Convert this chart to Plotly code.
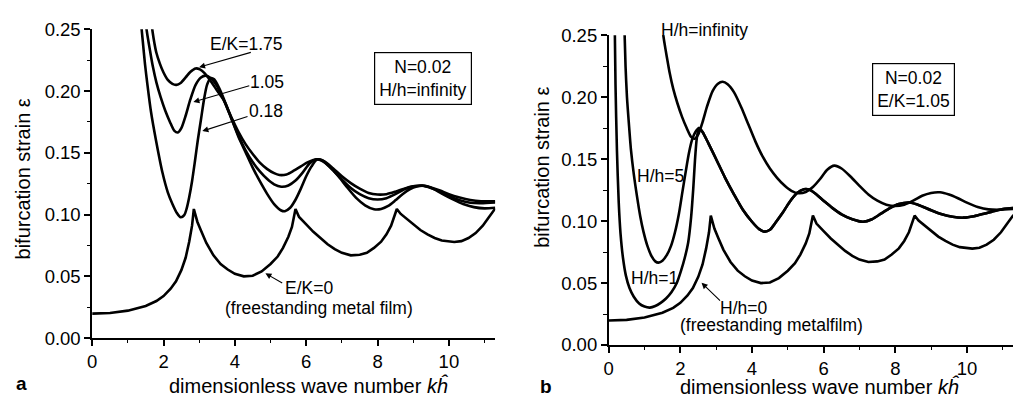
import plotly.graph_objects as go

W, H = 1013, 404

# ---------------- data ----------------
# freestanding metal film (E/K=0, also H/h=0)
fs_x = [0.0, 0.5, 1.0, 1.5, 1.8, 2.0, 2.2, 2.35, 2.5, 2.62, 2.72, 2.8, 2.85,
        2.95, 3.05, 3.2, 3.4, 3.6, 3.8, 4.0, 4.25, 4.5, 4.75, 5.0, 5.2, 5.35, 5.5, 5.6, 5.7,
        5.8, 6.0, 6.2, 6.4, 6.6, 6.8, 7.0, 7.25, 7.5, 7.7, 7.9, 8.1, 8.25, 8.38, 8.47, 8.54,
        8.65, 8.8, 9.0, 9.2, 9.4, 9.6, 9.8, 10.0, 10.15, 10.35, 10.55, 10.75, 10.95, 11.1, 11.2, 11.3]
fs_y = [0.0198, 0.0203, 0.0222, 0.026, 0.030, 0.034, 0.040, 0.046, 0.055, 0.065, 0.078, 0.091, 0.1045,
        0.094, 0.087, 0.077, 0.067, 0.060, 0.0555, 0.052, 0.050, 0.0505, 0.054, 0.060, 0.066, 0.073, 0.082, 0.090, 0.1045,
        0.098, 0.092, 0.086, 0.081, 0.076, 0.072, 0.069, 0.067, 0.0675, 0.069, 0.073, 0.078, 0.084, 0.091, 0.098, 0.1045,
        0.1005, 0.097, 0.092, 0.0875, 0.084, 0.081, 0.079, 0.078, 0.0778, 0.0785, 0.081, 0.085, 0.091, 0.097, 0.1015, 0.105]

# E/K=1.05 (also H/h=infinity)
ek105_x = [1.50, 1.55, 1.62, 1.70, 1.80, 1.92, 2.05, 2.18, 2.30, 2.40, 2.50, 2.62, 2.75, 2.90, 3.05, 3.18,
           3.32, 3.50, 3.70, 3.90, 4.10, 4.30, 4.50, 4.70, 4.90, 5.10, 5.30, 5.50, 5.70, 5.90, 6.10, 6.30,
           6.50, 6.75, 7.00, 7.25, 7.50, 7.75, 8.00, 8.25, 8.50, 8.75, 9.00, 9.25, 9.50, 9.75, 10.0, 10.3,
           10.6, 10.9, 11.3]
ek105_y = [0.255, 0.245, 0.233, 0.220, 0.207, 0.195, 0.184, 0.175, 0.168, 0.1665, 0.170, 0.180, 0.193, 0.205, 0.211, 0.2125,
           0.2105, 0.204, 0.192, 0.178, 0.164, 0.152, 0.1425, 0.135, 0.129, 0.1245, 0.1225, 0.1235, 0.1275, 0.134, 0.1415, 0.1448,
           0.1425, 0.136, 0.1285, 0.1215, 0.1165, 0.1133, 0.1122, 0.1133, 0.1165, 0.1205, 0.1228, 0.1233, 0.1215, 0.1185, 0.115, 0.1115,
           0.1095, 0.1092, 0.1098]

# E/K=1.75
ek175_x = [1.66, 1.72, 1.80, 1.90, 2.00, 2.12, 2.25, 2.36, 2.48, 2.62, 2.75, 2.90, 3.02, 3.15, 3.30, 3.50,
           3.70, 3.90, 4.10, 4.30, 4.50, 4.70, 4.90, 5.10, 5.25, 5.45, 5.65, 5.85, 6.05, 6.30, 6.50, 6.75,
           7.00, 7.25, 7.50, 7.75, 8.00, 8.25, 8.50, 8.75, 9.00, 9.25, 9.50, 9.75, 10.0, 10.3, 10.6, 10.9, 11.3]
ek175_y = [0.255, 0.243, 0.231, 0.222, 0.215, 0.209, 0.2058, 0.205, 0.2065, 0.211, 0.2155, 0.2183, 0.2175, 0.2145, 0.209, 0.2005,
           0.192, 0.179, 0.167, 0.157, 0.149, 0.142, 0.137, 0.1335, 0.132, 0.1325, 0.1355, 0.139, 0.1425, 0.1448, 0.1432, 0.1375,
           0.131, 0.1255, 0.121, 0.1175, 0.1162, 0.1165, 0.1185, 0.121, 0.1228, 0.1235, 0.122, 0.1195, 0.1165, 0.1138, 0.1118, 0.1108, 0.1108]

# E/K=0.18
ek018_x = [1.37, 1.42, 1.48, 1.55, 1.65, 1.79, 1.97, 2.12, 2.25, 2.38, 2.48, 2.58, 2.65, 2.72, 2.80, 2.88,
           2.96, 3.05, 3.14, 3.22, 3.32, 3.42, 3.55, 3.70, 3.90, 4.10, 4.30, 4.50, 4.70, 4.90, 5.10, 5.30,
           5.40, 5.55, 5.70, 5.85, 6.00, 6.15, 6.30, 6.45, 6.65, 6.90, 7.15, 7.40, 7.65, 7.90, 8.10, 8.30,
           8.50, 8.70, 8.90, 9.10, 9.30, 9.55, 9.80, 10.1, 10.4, 10.7, 11.0, 11.3]
ek018_y = [0.255, 0.240, 0.222, 0.205, 0.183, 0.160, 0.134, 0.118, 0.1086, 0.101, 0.0978, 0.0995, 0.105, 0.114, 0.127, 0.143,
           0.160, 0.177, 0.194, 0.205, 0.2105, 0.2095, 0.203, 0.193, 0.178, 0.163, 0.1505, 0.138, 0.127, 0.117, 0.1085, 0.1033,
           0.1027, 0.1055, 0.112, 0.121, 0.131, 0.139, 0.1445, 0.144, 0.139, 0.131, 0.122, 0.1135, 0.1075, 0.1043, 0.1045, 0.107,
           0.1115, 0.1165, 0.1205, 0.1228, 0.1233, 0.121, 0.117, 0.1125, 0.1085, 0.106, 0.105, 0.1055]

# H/h=5
h5_x = [0.44, 0.47, 0.51, 0.56, 0.62, 0.70, 0.79, 0.88, 0.97, 1.08, 1.20, 1.30, 1.39, 1.50, 1.62, 1.74,
        1.85, 1.96, 2.06, 2.15, 2.24, 2.33, 2.42, 2.52, 2.62, 2.78, 3.00, 3.25, 3.50, 3.75, 4.00, 4.20,
        4.35, 4.50, 4.65, 4.85, 5.05, 5.25, 5.45, 5.60, 5.80, 6.00, 6.25, 6.50, 6.80, 7.10, 7.35, 7.60,
        7.85, 8.10, 8.40, 8.70, 9.00, 9.30, 9.60, 9.90, 10.2, 10.5, 10.8, 11.05, 11.3]
h5_y = [0.255, 0.225, 0.200, 0.180, 0.158, 0.138, 0.120, 0.104, 0.0915, 0.080, 0.0715, 0.0675, 0.0665, 0.068, 0.0725, 0.080,
        0.091, 0.106, 0.124, 0.140, 0.155, 0.166, 0.172, 0.1752, 0.172, 0.163, 0.150, 0.135, 0.1215, 0.109, 0.0995, 0.0935,
        0.0915, 0.093, 0.0985, 0.1065, 0.1155, 0.1225, 0.1258, 0.1255, 0.1215, 0.1165, 0.1105, 0.1055, 0.1015, 0.0995, 0.1015, 0.106,
        0.1105, 0.1138, 0.1150, 0.1125, 0.1088, 0.1055, 0.1035, 0.1028, 0.104, 0.1062, 0.1085, 0.110, 0.1106]

# H/h=1
h1_x = [0.17, 0.19, 0.23, 0.28, 0.33, 0.40, 0.48, 0.58, 0.70, 0.85, 1.00, 1.15, 1.30, 1.45, 1.60, 1.75,
        1.90, 2.02, 2.12, 2.22, 2.30, 2.36, 2.41, 2.46, 2.52, 2.62, 2.78, 3.00, 3.25, 3.50, 3.75, 4.00,
        4.20, 4.35, 4.50, 4.65, 4.85, 5.05, 5.25, 5.45, 5.60, 5.80, 6.00, 6.25, 6.50, 6.80, 7.10, 7.35,
        7.60, 7.85, 8.10, 8.40, 8.70, 9.00, 9.30, 9.60, 9.90, 10.2, 10.5, 10.8, 11.05, 11.3]
h1_y = [0.255, 0.210, 0.157, 0.115, 0.090, 0.070, 0.056, 0.046, 0.039, 0.0335, 0.031, 0.0302, 0.0315, 0.034, 0.0375, 0.0425,
        0.050, 0.060, 0.070, 0.083, 0.103, 0.126, 0.150, 0.167, 0.1752, 0.172, 0.163, 0.150, 0.135, 0.1215, 0.109, 0.0995,
        0.0935, 0.0915, 0.093, 0.0985, 0.1065, 0.1155, 0.1225, 0.1258, 0.1255, 0.1215, 0.1165, 0.1105, 0.1055, 0.1015, 0.0995, 0.1015,
        0.106, 0.1105, 0.1138, 0.1150, 0.1125, 0.1088, 0.1055, 0.1035, 0.1028, 0.104, 0.1062, 0.1085, 0.110, 0.1106]

x_ticks = [0, 2, 4, 6, 8, 10]
y_ticks = [0.00, 0.05, 0.10, 0.15, 0.20, 0.25]

# ---------------- figure ----------------
FONT = "Liberation Sans, Arial, sans-serif"
LW = 2.6

fig = go.Figure()

def add(x, y, xa, ya, shape="spline"):
    fig.add_trace(go.Scatter(x=x, y=y, xaxis=xa, yaxis=ya, mode="lines",
                             line=dict(color="black", width=LW, shape=shape, smoothing=0.7),
                             showlegend=False, hoverinfo="skip"))

add(ek175_x, ek175_y, "x", "y")
add(ek105_x, ek105_y, "x", "y")
add(ek018_x, ek018_y, "x", "y")
add(fs_x, fs_y, "x", "y", shape="linear")

add(ek105_x, ek105_y, "x2", "y2")
add(h5_x, h5_y, "x2", "y2")
add(h1_x, h1_y, "x2", "y2")
add(fs_x, fs_y, "x2", "y2", shape="linear")

MINOR_X = dict(dtick=1, tick0=0, ticks="outside", ticklen=3.5, tickwidth=1.3, tickcolor="black")
MINOR_Y = dict(dtick=0.025, tick0=0, ticks="outside", ticklen=3.5, tickwidth=1.3, tickcolor="black")

def axis_common(**kw):
    d = dict(showline=True, linecolor="black", linewidth=1.6, mirror=False,
             ticks="outside", ticklen=6, tickwidth=1.5, tickcolor="black",
             showgrid=False, zeroline=False,
             tickfont=dict(family=FONT, size=18.5, color="black"))
    d.update(kw)
    return d

# panel a pixel geometry
ax0, ax_px = 87.6, 35.85
ay0, ay_top = 345.0, 19.3
# panel b
bx0, bx_px = 606.7, 36.0
by0, by_top = 352.3, 25.7

fig.update_layout(
    width=W, height=H, autosize=False,
    margin=dict(l=0, r=0, t=0, b=0),
    paper_bgcolor="white", plot_bgcolor="white",
    font=dict(family=FONT, color="black"),
    xaxis=axis_common(domain=[ax0 / W, (ax0 + 11.3 * ax_px) / W], range=[0, 11.3],
                      tickvals=x_ticks, anchor="y", minor=MINOR_X),
    yaxis=axis_common(domain=[1 - ay0 / H, 1 - ay_top / H], range=[0, 0.25],
                      tickvals=y_ticks, tickformat=".2f", anchor="x", minor=MINOR_Y),
    xaxis2=axis_common(domain=[bx0 / W, 1.0], range=[0, (W - bx0) / bx_px],
                       tickvals=x_ticks, anchor="y2", minor=MINOR_X),
    yaxis2=axis_common(domain=[1 - by0 / H, 1 - by_top / H], range=[0, 0.25],
                       tickvals=y_ticks, tickformat=".2f", anchor="x2", minor=MINOR_Y),
)

def P(ox, oy):
    return ox / W, 1 - oy / H

ann = []

def text(ox, oy, t, size=17.5, **kw):
    x, y = P(ox, oy)
    d = dict(x=x, y=y, xref="paper", yref="paper", text=t, showarrow=False,
             xanchor="center", yanchor="middle",
             font=dict(family=FONT, size=size, color="black"))
    d.update(kw)
    ann.append(d)

def arrow(hx, hy, tx, ty):
    x, y = P(hx, hy)
    ann.append(dict(x=x, y=y, xref="paper", yref="paper", text=" ",
                    font=dict(size=1), showarrow=True, arrowhead=2, arrowsize=1.1,
                    arrowwidth=1.1, arrowcolor="black", ax=tx - hx, ay=ty - hy,
                    axref="pixel", ayref="pixel", standoff=0, startstandoff=0))

# panel a labels
text(242.2, 35, "E/K=1.75")
arrow(195, 59.3, 248.3, 44)
text(263, 75, "1.05")
arrow(189.3, 96, 246.7, 79.3)
text(262.5, 106, "0.18")
arrow(198.3, 126.7, 245, 111.7)
text(305.8, 291.7, "E/K=0")
arrow(261.7, 276.7, 280, 287.3)
text(315.8, 313, "(freestanding metal film)")
text(420, 71.7, "N=0.02<br>H/h=infinity", bordercolor="black", borderwidth=1.2,
     borderpad=4, bgcolor="white")

# panel b labels
text(702.5, 20, "H/h=infinity")
text(658.7, 173.7, "H/h=5")
text(652.5, 281.7, "H/h=1")
text(742.5, 313, "H/h=0")
arrow(700, 286.7, 720, 306)
text(770.8, 331.5, "(freestanding metalfilm)")
text(913.3, 82.5, "N=0.02<br>E/K=1.05", bordercolor="black", borderwidth=1.2,
     borderpad=4, bgcolor="white")

# axis titles
XT = "dimensionless wave number <i>k</i><i>\u0125</i>"
YT = "bifurcation strain \u03b5"
text(305, 395, XT, size=20)
text(818.3, 396, XT, size=20)
text(18.3, 177.5, YT, size=20, textangle=-90)
text(540, 165, YT, size=20, textangle=-90)

# panel letters
text(16.7, 393, "<b>a</b>", size=19)
text(543.3, 396, "<b>b</b>", size=19)

fig.update_layout(annotations=ann)

fig.write_html("out.html", config={"displayModeBar": False},
               post_script="document.body.style.margin='0';")
